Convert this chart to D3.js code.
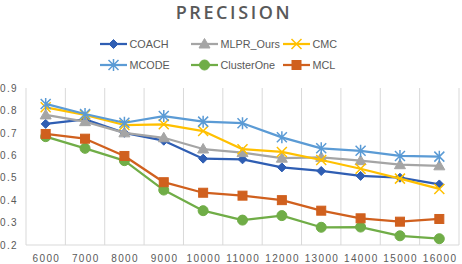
<!DOCTYPE html>
<html>
<head>
<meta charset="utf-8">
<script src="https://cdn.jsdelivr.net/npm/d3@7"></script>
<style>
  body { margin: 0; background: #fff; }
  text { font-family: "Liberation Sans", Arial, sans-serif; }
</style>
</head>
<body>
<div class="chart"></div>
<script>
const sizes = ['6000', '7000', '8000', '9000', '10000', '11000', '12000', '13000', '14000', '15000', '16000'];
const yTicks = [0.2, 0.3, 0.4, 0.5, 0.6, 0.7, 0.8, 0.9];

const coach      = [0.74, 0.76, 0.70, 0.665, 0.585, 0.582, 0.546, 0.53, 0.508, 0.50, 0.47];
const mlprOurs   = [0.78, 0.75, 0.70, 0.678, 0.628, 0.612, 0.587, 0.591, 0.576, 0.558, 0.553];
const cmc        = [0.814, 0.78, 0.735, 0.738, 0.708, 0.627, 0.615, 0.579, 0.54, 0.496, 0.45];
const mcode      = [0.829, 0.784, 0.745, 0.775, 0.75, 0.743, 0.68, 0.631, 0.62, 0.597, 0.594];
const clusterOne = [0.683, 0.631, 0.576, 0.445, 0.353, 0.311, 0.331, 0.279, 0.28, 0.241, 0.228];
const mcl        = [0.695, 0.674, 0.597, 0.48, 0.433, 0.42, 0.40, 0.353, 0.319, 0.304, 0.316];

const series = [
  {name: 'COACH', values: coach, color: '#2F5EB3', marker: 'diamond'},
  {name: 'MLPR_Ours', values: mlprOurs, color: '#A5A5A5', marker: 'triangle'},
  {name: 'CMC', values: cmc, color: '#FFC000', marker: 'cross'},
  {name: 'MCODE', values: mcode, color: '#5B9BD5', marker: 'star'},
  {name: 'ClusterOne', values: clusterOne, color: '#70AD47', marker: 'circle'},
  {name: 'MCL', values: mcl, color: '#D0601E', marker: 'square'}
];

const width = 462, height = 264;
const margin = {top: 88, right: 3, bottom: 19, left: 26};

const svg = d3.select('.chart')
  .append('svg')
    .attr('width', width)
    .attr('height', height);

const x = d3.scaleBand()
  .domain(sizes)
  .range([margin.left, width - margin.right]);

const y = d3.scaleLinear()
  .domain([0.2, 0.9])
  .range([height - margin.bottom, margin.top]);

// vertical gridlines on category boundaries
const bounds = sizes.map(s => x(s)).concat([x.range()[1]]);
svg.append('g')
  .selectAll('line')
  .data(bounds)
  .join('line')
    .attr('x1', d => d).attr('x2', d => d)
    .attr('y1', y(0.9)).attr('y2', y(0.2))
    .attr('stroke', '#D9D9D9')
    .attr('stroke-width', 1);

// bottom axis line
svg.append('line')
  .attr('x1', x.range()[0]).attr('x2', x.range()[1])
  .attr('y1', y(0.2)).attr('y2', y(0.2))
  .attr('stroke', '#D9D9D9');

const xAxis = g => g
  .attr('transform', `translate(0.7, ${y(0.2)})`)
  .call(d3.axisBottom(x).tickSize(0).tickPadding(9.5))
  .call(g => g.select('.domain').remove());

const yAxis = g => g
  .attr('transform', `translate(${margin.left}, 0)`)
  .call(d3.axisLeft(y).tickValues(yTicks).tickFormat(d3.format('.1f')).tickSize(0).tickPadding(8))
  .call(g => g.select('.domain').remove());

svg.append('g').call(xAxis);
svg.append('g').call(yAxis);

svg.selectAll('.tick text')
  .attr('fill', '#595959')
  .attr('font-size', '10px')
  .style('letter-spacing', '1.35px')
  .style('font-family', '"Liberation Sans", Arial, sans-serif');

const cx = d => x(d) + x.bandwidth() / 2;

const drawMarker = (g, type, color, px, py) => {
  if (type === 'diamond') {
    g.append('path')
      .attr('d', `M${px},${py - 4.5}L${px + 4.5},${py}L${px},${py + 4.5}L${px - 4.5},${py}Z`)
      .attr('fill', color).attr('stroke', color);
  } else if (type === 'triangle') {
    g.append('path')
      .attr('d', `M${px},${py - 5.5}L${px + 5.5},${py + 4}L${px - 5.5},${py + 4}Z`)
      .attr('fill', color).attr('stroke', color);
  } else if (type === 'square') {
    g.append('rect')
      .attr('x', px - 4.5).attr('y', py - 4.5)
      .attr('width', 9).attr('height', 9)
      .attr('fill', color).attr('stroke', color);
  } else if (type === 'circle') {
    g.append('circle')
      .attr('cx', px).attr('cy', py).attr('r', 5)
      .attr('fill', color).attr('stroke', color);
  } else if (type === 'cross') {
    g.append('path')
      .attr('d', `M${px - 5},${py - 5}L${px + 5},${py + 5}M${px - 5},${py + 5}L${px + 5},${py - 5}`)
      .attr('stroke', color).attr('stroke-width', 1.5).attr('fill', 'none');
  } else if (type === 'star') {
    g.append('path')
      .attr('d', `M${px - 5},${py - 5}L${px + 5},${py + 5}M${px - 5},${py + 5}L${px + 5},${py - 5}M${px},${py - 6}L${px},${py + 6}`)
      .attr('stroke', color).attr('stroke-width', 1.5).attr('fill', 'none');
  }
};

const line = d3.line()
  .x((d, i) => cx(sizes[i]))
  .y(d => y(d));

series.forEach(s => {
  const g = svg.append('g');
  g.append('path')
    .datum(s.values)
    .attr('d', line)
    .attr('fill', 'none')
    .attr('stroke', s.color)
    .attr('stroke-width', 2.25)
    .attr('stroke-linejoin', 'round');
  s.values.forEach((v, i) => drawMarker(g, s.marker, s.color, cx(sizes[i]), y(v)));
});

// title
svg.append('text')
  .attr('x', 234)
  .attr('y', 19)
  .attr('text-anchor', 'middle')
  .attr('font-size', '18px')
  .attr('font-weight', '600')
  .attr('fill', '#595959')
  .style('font-family', '"Open Sans", sans-serif')
  .style('letter-spacing', '2.6px')
  .text('PRECISION');

// legend
const legendCols = [100, 191, 283];
const legendRows = [44, 65];
series.forEach((s, i) => {
  const lx = legendCols[i % 3];
  const ly = legendRows[Math.floor(i / 3)];
  const g = svg.append('g');
  g.append('line')
    .attr('x1', lx).attr('x2', lx + 27)
    .attr('y1', ly).attr('y2', ly)
    .attr('stroke', s.color).attr('stroke-width', 2.25);
  drawMarker(g, s.marker, s.color, lx + 13.5, ly);
  g.append('text')
    .attr('x', lx + 29.5)
    .attr('y', ly)
    .attr('dy', '0.36em')
    .attr('font-size', '10.8px')
    .attr('fill', '#595959')
    .text(s.name);
});
</script>
</body>
</html>
